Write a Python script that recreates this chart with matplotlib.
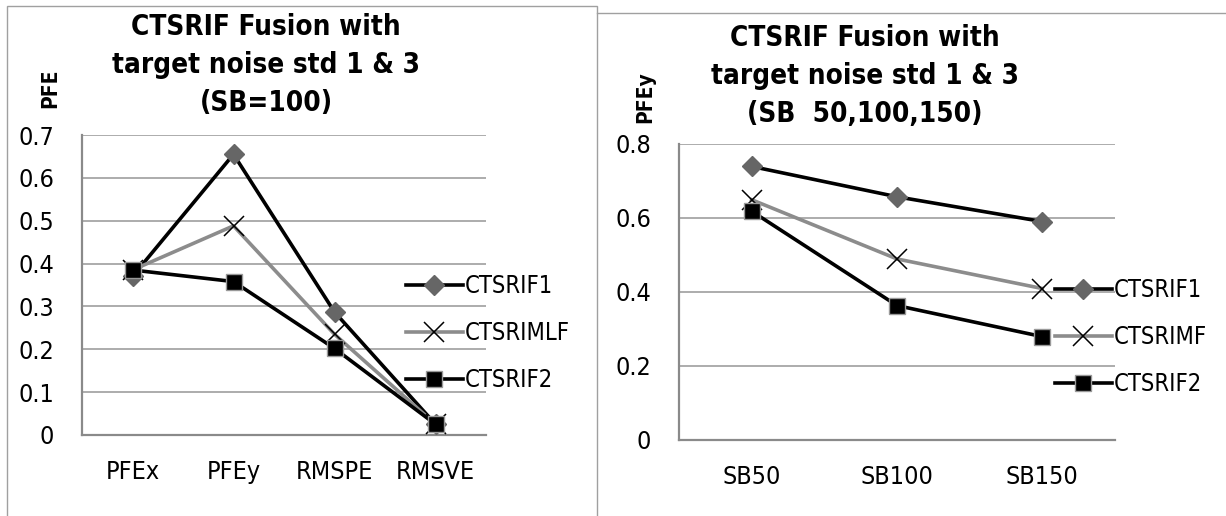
import numpy as np
import matplotlib
matplotlib.use("Agg")
import matplotlib.pyplot as plt
from matplotlib.lines import Line2D

W, H = 1226, 516
plt.rcParams["font.family"] = ["DejaVu Sans"]
plt.rcParams["font.stretch"] = "condensed"

# left chart data
left_cats = ["PFEx", "PFEy", "RMSPE", "RMSVE"]
left_ctsrif1 = [0.37, 0.655, 0.287, 0.025]
left_ctsrimlf = [0.385, 0.488, 0.235, 0.025]
left_ctsrif2 = [0.385, 0.358, 0.202, 0.025]
left_labels = ["CTSRIF1", "CTSRIMLF", "CTSRIF2"]

# right chart data
right_cats = ["SB50", "SB100", "SB150"]
right_ctsrif1 = [0.738, 0.656, 0.589]
right_ctsrimf = [0.648, 0.488, 0.408]
right_ctsrif2 = [0.617, 0.362, 0.278]
right_labels = ["CTSRIF1", "CTSRIMF", "CTSRIF2"]


def fx(x):
    return x / W


def fy(y):
    return 1 - y / H


def draw(ax, cats, series, labels, ymax, ystep):
    x = np.arange(len(cats))
    s1, s2, s3 = series
    ax.plot(x, s1, color="black", lw=2.6, marker="D", ms=10, mfc="#666666",
            mec="#666666", label=labels[0], zorder=3)
    ax.plot(x, s2, color="#8c8c8c", lw=2.6, marker="x", ms=15, mec="black",
            mew=1.1, label=labels[1], zorder=4)
    ax.plot(x, s3, color="black", lw=2.6, marker="s", ms=11, mfc="black",
            mec="#999999", mew=1.0, label=labels[2], zorder=5)
    ax.set_xlim(-0.5, len(cats) - 0.5)
    ax.set_ylim(0, ymax)
    ticks = np.round(np.arange(0, ymax + 1e-9, ystep), 1)
    ax.set_yticks(ticks)
    ax.set_yticklabels(["0" if t == 0 else f"{t:g}" for t in ticks])
    ax.set_xticks(x)
    ax.set_xticklabels(cats)
    ax.tick_params(axis="both", length=0, labelsize=18)
    ax.tick_params(axis="y", pad=20)
    ax.tick_params(axis="x", pad=18)
    ax.grid(axis="y", color="#a6a6a6", lw=1.3, zorder=0)
    ax.set_axisbelow(True)
    for s in ["top", "right"]:
        ax.spines[s].set_visible(False)
    for s in ["left", "bottom"]:
        ax.spines[s].set_color("#8a8a8a")
        ax.spines[s].set_linewidth(1.6)


fig = plt.figure(figsize=(W / 100, H / 100), dpi=100)

# chart frames
fig.add_artist(plt.Rectangle((fx(7), fy(520)), fx(597) - fx(7), fy(6) - fy(520),
                             fill=False, ec="#a0a0a0", lw=1.0,
                             transform=fig.transFigure))
fig.add_artist(Line2D([fx(597), fx(1226)], [fy(13), fy(13)], color="#a0a0a0",
                      lw=1.0, transform=fig.transFigure))

ax1 = fig.add_axes([fx(82), fy(435), fx(486) - fx(82), fy(135) - fy(435)])
draw(ax1, left_cats, [left_ctsrif1, left_ctsrimlf, left_ctsrif2], left_labels, 0.7, 0.1)
ax1.legend(loc="center left", bbox_to_anchor=(fx(406), fy(333)),
           bbox_transform=fig.transFigure, frameon=False, fontsize=17,
           handlelength=2.4, handletextpad=0.1, labelspacing=0.97,
           borderaxespad=0, borderpad=0)

ax2 = fig.add_axes([fx(679), fy(439.5), fx(1115) - fx(679), fy(143.5) - fy(439.5)])
draw(ax2, right_cats, [right_ctsrif1, right_ctsrimf, right_ctsrif2], right_labels, 0.8, 0.2)
ax2.legend(loc="center left", bbox_to_anchor=(fx(1055), fy(337)),
           bbox_transform=fig.transFigure, frameon=False, fontsize=17,
           handlelength=2.4, handletextpad=0.1, labelspacing=0.97,
           borderaxespad=0, borderpad=0)

fig.text(fx(266), fy(65), "CTSRIF Fusion with\ntarget noise std 1 & 3\n(SB=100)",
         ha="center", va="center", fontsize=20, fontweight="bold", linespacing=1.45)
fig.text(fx(865), fy(76), "CTSRIF Fusion with\ntarget noise std 1 & 3\n(SB  50,100,150)",
         ha="center", va="center", fontsize=20, fontweight="bold", linespacing=1.45)
fig.text(fx(50), fy(88), "PFE", rotation=90, ha="center", va="center",
         fontsize=15, fontweight="bold")
fig.text(fx(645), fy(97), "PFEy", rotation=90, ha="center", va="center",
         fontsize=15, fontweight="bold")

fig.savefig("out.png", dpi=100)
plt.close(fig)
